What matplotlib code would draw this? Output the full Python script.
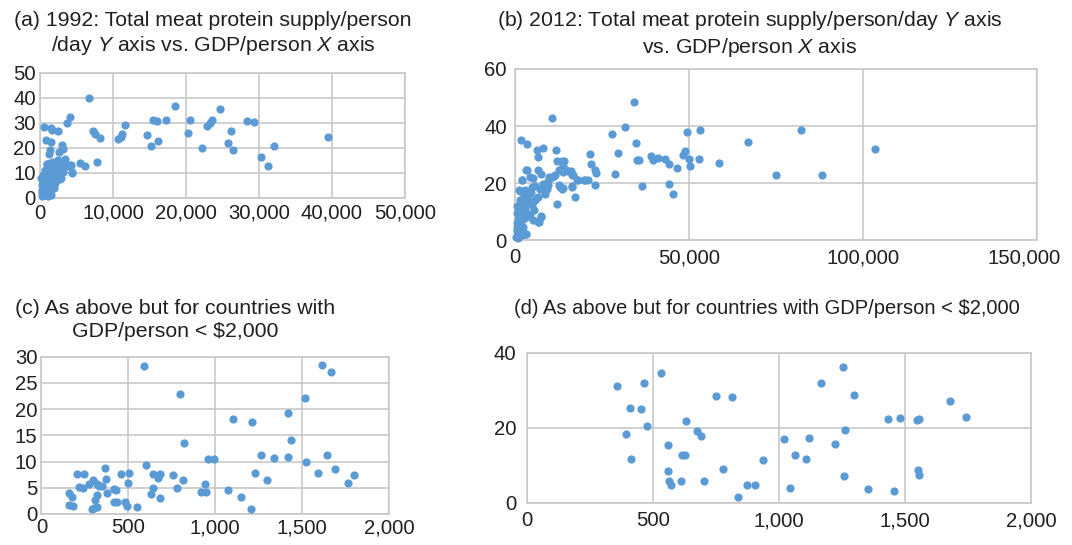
import numpy as np
from matplotlib import pyplot as plt
from matplotlib.ticker import FuncFormatter
from matplotlib.transforms import ScaledTranslation

plt.rcParams['font.family'] = ['Liberation Sans', 'DejaVu Sans']
plt.rcParams['mathtext.fontset'] = 'custom'
plt.rcParams['mathtext.it'] = 'Liberation Sans:italic'
plt.rcParams['mathtext.rm'] = 'Liberation Sans'

# (a) 1992, GDP/person vs meat protein
gdp92 = [6712, 4054, 3694, 586, 1577, 1667, 2478, 7208, 7478, 8154, 811, 1487, 3018, 3198,
         1351, 2568, 1171, 5541, 6217, 7839, 4324, 2793, 4099, 3063, 3379, 2478, 1802, 901,
         10722, 11037, 11262, 11713, 14641, 15181, 16127, 15542, 15992, 17209, 18470, 20317,
         20587, 22164, 22885, 23291, 23606, 24642, 26129, 25723, 26489, 28381, 29327, 30273,
         31174, 32031, 39500,
         909, 682, 1136, 1818, 2500, 1591, 2954, 2272, 2818, 454, 818, 1364, 1909, 364, 636,
         1136, 1591, 364, 909, 1364, 273, 636, 1136, 1454, 227, 454, 1818, 1273, 3181, 4363,
         3636, 2727, 2045, 1364, 4181, 300, 500, 700, 950, 1200, 250, 400, 600, 800, 1000,
         1700, 2100, 350, 550, 750, 1050, 1250, 1500, 200, 420, 650, 880, 1100, 1900]
meat92 = [40.0, 32.4, 30.0, 28.4, 28.0, 27.2, 26.7, 26.7, 25.7, 24.0, 23.1, 22.5, 21.1, 19.7,
          19.3, 18.3, 17.7, 14.0, 12.8, 14.5, 10.3, 7.7, 13.3, 13.2, 15.6, 15.3, 14.4, 13.7,
          23.7, 24.4, 25.7, 29.1, 25.3, 20.7, 22.7, 31.2, 30.9, 31.2, 36.9, 26.0,
          31.3, 19.9, 28.7, 30.0, 31.2, 35.6, 26.9, 22.0, 19.3, 30.7, 30.4, 16.5,
          12.9, 20.7, 24.5,
          13.6, 11.3, 12.0, 12.7, 12.0, 10.4, 11.2, 9.6, 8.0, 9.3, 8.3, 7.3, 6.7, 6.7, 5.3,
          5.6, 4.7, 4.0, 3.3, 2.7, 2.4, 1.3, 0.7, 1.3, 0.7, 2.9, 8.7, 9.6, 10.4, 10.1,
          12.7, 14.4, 14.4, 13.9, 13.3, 3.0, 4.5, 6.0, 7.5, 9.0, 5.0, 6.5, 8.0, 10.0, 11.0,
          5.5, 6.0, 1.8, 3.6, 4.2, 6.2, 7.8, 9.2, 8.0, 2.0, 2.4, 3.8, 5.2, 4.0]

# (b) 2012
gdp12 = [34296, 10538, 31614, 27782, 34871, 29506, 21555, 21746, 23087, 23279, 28644, 36596,
         35063, 35542, 39086, 39565, 41098, 43205, 44259, 44354, 45312, 46462, 48186, 48857,
         49336, 49911, 50294, 53264, 52785, 58533, 66868, 75107, 82123, 88146, 103633,
         1628, 3545, 6227, 8143, 6514, 11688, 12071, 13400, 14000, 3353, 6706, 7377, 4311,
         5269, 2108, 9868, 11305, 13412, 13700, 14658, 16190, 16765, 17915, 20022, 20980,
         12741, 13700, 16382, 17244, 12071, 7473, 6802, 3161, 1245,
         1341, 2108, 3257, 4790, 5748, 7185, 8430, 9101, 9580, 8622, 6706, 5748, 3832, 2874,
         3449, 1724, 1150, 2491, 4790, 5557, 4311, 3066, 7473, 6706, 5173, 958, 1724, 479,
         958, 1916, 3257, 1341, 575, 11500, 12645, 13891, 15328, 16286, 18010, 19926, 12933,
         13604, 16286, 10538, 9388, 8143, 22990, 400, 700, 1500, 2300, 2800, 3800, 4500, 600,
         900, 1200, 2000, 2600, 3500, 800, 1100, 1800, 500, 1400, 2200]
meat12 = [48.4, 42.9, 39.5, 37.3, 34.0, 30.5, 30.1, 26.5, 24.5, 23.5, 23.3, 19.0,
          28.0, 28.2, 29.5, 28.1, 28.6, 28.3, 26.6, 19.6, 16.0, 25.4, 29.7, 31.1,
          37.8, 28.4, 26.1, 38.7, 28.4, 27.0, 34.3, 22.8, 38.5, 22.8, 32.1,
          35.0, 33.7, 31.6, 32.4, 29.0, 31.7, 27.7, 27.7, 27.7, 24.5, 24.5, 23.3, 22.1,
          21.9, 21.2, 22.1, 22.6, 24.5, 25.9, 24.5, 24.2, 22.7, 21.0, 21.0, 21.0,
          19.2, 18.1, 18.6, 15.0, 12.8, 8.5, 6.3, 2.1, 17.5,
          17.2, 20.9, 24.4, 18.6, 19.0, 18.0, 18.8, 17.8, 19.2, 16.0, 15.1, 14.0, 16.3, 17.4,
          13.4, 12.2, 10.7, 10.5, 12.2, 10.5, 9.3, 8.1, 8.1, 6.4, 7.0, 7.0, 4.9, 4.1,
          2.3, 1.7, 2.1, 8.1, 9.5, 22.7, 24.4, 23.8, 24.2, 22.7, 20.9, 20.9, 18.6,
          18.0, 18.8, 22.1, 20.7, 19.8, 19.2, 1.0, 3.0, 5.5, 7.5, 11.0, 14.5, 16.5, 12.0,
          5.0, 9.0, 13.0, 15.5, 17.0, 0.8, 3.5, 11.5, 6.0, 14.0, 4.5]

# (c) 1992, GDP/person < 2,000
gdp_c = [156, 173, 160, 183, 202, 246, 214, 240, 275, 298, 321, 332, 348, 367, 371, 321, 307,
         288, 304, 317, 378, 417, 428, 417, 432, 478, 490, 547, 455, 501, 499, 604, 639, 681,
         673, 643, 633, 683, 758, 777, 815, 821, 942, 917, 946, 959, 993, 1076, 1148, 589, 798,
         1102, 1213, 1418, 1514, 1616, 1668, 1434, 1263, 1340, 1418, 1522, 1643, 1226, 1296,
         1205, 1589, 1689, 1800, 1766]
meat_c = [4.0, 3.3, 1.7, 1.5, 7.6, 7.6, 5.1, 4.9, 5.8, 6.5, 5.7, 5.4, 5.4, 8.8, 6.7, 3.6, 2.6,
          1.0, 1.2, 1.3, 4.0, 4.7, 4.5, 2.2, 2.2, 2.3, 1.5, 1.35, 7.6, 7.8, 5.9, 9.4, 7.7, 7.6,
          6.8, 5.0, 3.85, 3.0, 7.4, 4.9, 6.5, 13.6, 5.8, 4.1, 4.1, 10.4, 10.4, 4.6, 3.2, 28.3,
          22.8, 18.1, 17.6, 19.3, 22.2, 28.35, 27.0, 14.2, 11.25, 10.7, 10.9, 10.0, 11.2, 7.8,
          6.5, 0.95, 7.8, 8.6, 7.4, 6.0]

# (d) 2012, GDP/person < 2,000
gdp_d = [358, 464, 530, 406, 452, 475, 391, 410, 630, 673, 689, 558, 616, 626, 558, 563, 571,
         612, 701, 751, 813, 778, 837, 873, 905, 935, 1253, 1168, 1299, 1434, 1480, 1546, 1556,
         1679, 1741, 1263, 1020, 1118, 1223, 1063, 1107, 1257, 1044, 1353, 1454, 1550, 1554]
meat_d = [31.2, 31.8, 34.5, 25.2, 24.9, 20.5, 18.4, 11.6, 21.9, 19.2, 17.8, 15.4, 12.8, 12.8,
          8.5, 5.8, 4.6, 5.9, 5.7, 28.4, 28.1, 8.9, 1.5, 4.6, 4.8, 11.3, 36.1, 32.0, 28.7,
          22.3, 22.5, 22.0, 22.2, 27.2, 22.8, 19.3, 16.9, 17.2, 15.7, 12.6, 11.7, 7.1, 3.9,
          3.7, 3.0, 8.6, 7.5]

blue = '#5b9bd5'
grid_col = '#c8c8c8'
fs = 15.3
tfs = 14.6
tc = '#231f20'

fig = plt.figure(figsize=(10.72, 5.45), dpi=100)


def setup(ax, xmax, xstep, ymax, ystep, xpad=4, ypad=4):
    ax.set_xlim(0, xmax)
    ax.set_ylim(0, ymax)
    ax.set_xticks(np.arange(0, xmax + 1, xstep))
    ax.set_yticks(np.arange(0, ymax + 0.1, ystep))
    ax.xaxis.set_major_formatter(FuncFormatter(lambda v, p: '{:,.0f}'.format(v)))
    ax.grid(True, color=grid_col, linewidth=1.2)
    ax.set_axisbelow(True)
    for s in ax.spines.values():
        s.set_color(grid_col)
        s.set_linewidth(1.2)
    ax.tick_params(length=0, labelsize=tfs, colors=tc)
    ax.tick_params(axis='x', pad=xpad)
    ax.tick_params(axis='y', pad=ypad)


ax_a = fig.add_axes([0.0373, 0.6367, 0.3405, 0.2294])
ax_a.scatter(gdp92, meat92, s=24, color=blue, zorder=3, clip_on=False)
setup(ax_a, 50000, 10000, 50, 10, ypad=3)

ax_b = fig.add_axes([0.4804, 0.5596, 0.4867, 0.3138])
ax_b.scatter(gdp12, meat12, s=24, color=blue, zorder=3, clip_on=False)
setup(ax_b, 150000, 50000, 60, 20, xpad=6, ypad=6)
# last label nudged left so it stays inside the figure
fig.canvas.draw()
lab = ax_b.get_xticklabels()[-1]
lab.set_transform(lab.get_transform() + ScaledTranslation(-9 / 72, 0, fig.dpi_scale_trans))

ax_c = fig.add_axes([0.0387, 0.0569, 0.3242, 0.2886])
ax_c.scatter(gdp_c, meat_c, s=24, color=blue, zorder=3, clip_on=False)
setup(ax_c, 2000, 500, 30, 5, xpad=3, ypad=3)

ax_d = fig.add_axes([0.4919, 0.0776, 0.4699, 0.2752])
ax_d.scatter(gdp_d, meat_d, s=24, color=blue, zorder=3, clip_on=False)
setup(ax_d, 2000, 500, 40, 20, xpad=6, ypad=8)

fig.text(213 / 1072, 1 - 34 / 545,
         '(a) 1992: Total meat protein supply/person\n/day $\\it{Y}$ axis vs. GDP/person $\\it{X}$ axis',
         ha='center', va='center', fontsize=fs, color=tc, linespacing=1.22)
fig.text(750 / 1072, 1 - 34 / 545,
         '(b) 2012: Total meat protein supply/person/day $\\it{Y}$ axis\nvs. GDP/person $\\it{X}$ axis',
         ha='center', va='center', fontsize=fs, color=tc, linespacing=1.22)
fig.text(175 / 1072, 1 - 320 / 545,
         '(c) As above but for countries with\nGDP/person < $2,000',
         ha='center', va='center', fontsize=fs, color=tc, linespacing=1.22)
fig.text(514 / 1072, 1 - 309 / 545,
         '(d) As above but for countries with GDP/person < $2,000',
         ha='left', va='center', fontsize=14.5, color=tc)

fig.savefig('out.png', dpi=100)
